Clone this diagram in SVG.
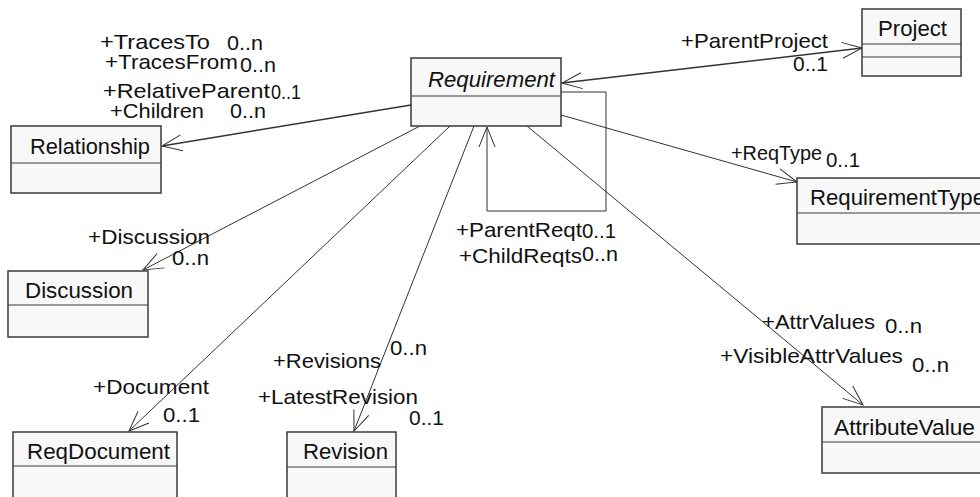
<svg xmlns="http://www.w3.org/2000/svg" width="980" height="497" viewBox="0 0 980 497">
  <style>
    .box { fill: #f8f8f8; stroke: #3a3a3a; stroke-width: 1.5; }
    .div { stroke: #3a3a3a; stroke-width: 1.2; fill: none; }
    .name { font-family: "Liberation Sans", Arial, sans-serif; font-size: 22px; fill: #111; }
    .lbl { font-family: "Liberation Sans", Arial, sans-serif; font-size: 21px; fill: #111; }
    .conn { stroke: #333; stroke-width: 1; fill: none; }
    .thick { stroke-width: 1.5; }
  </style>
  <defs>
    <marker id="open" markerUnits="userSpaceOnUse" markerWidth="24" markerHeight="20" viewBox="-22 -10 24 20" refX="0" refY="0" orient="auto-start-reverse">
      <path d="M-20,-8 L0,0 L-20,8" fill="none" stroke="#333" stroke-width="1"/>
    </marker>
  </defs>
  <rect width="980" height="497" fill="#ffffff"/>

  <!-- associations -->
  <g id="connectors">
    <line class="conn thick" x1="411" y1="105" x2="162" y2="146" marker-end="url(#open)"/>
    <line class="conn thick" x1="562" y1="83" x2="862" y2="48" marker-start="url(#open)" marker-end="url(#open)"/>
    <line class="conn" x1="561" y1="115" x2="797" y2="182" marker-end="url(#open)"/>
    <polyline class="conn" points="561,92 606,92 606,211 487,211 487,127" marker-end="url(#open)"/>
    <line class="conn" x1="420" y1="126" x2="143" y2="270" marker-end="url(#open)"/>
    <line class="conn" x1="450" y1="126" x2="129" y2="431" marker-end="url(#open)"/>
    <line class="conn" x1="474" y1="126" x2="354" y2="431" marker-end="url(#open)"/>
    <line class="conn" x1="527" y1="126" x2="863" y2="405" marker-end="url(#open)"/>
  </g>

  <!-- classes -->
  <g id="requirement">
    <rect class="box" x="411" y="58" width="150" height="68"/>
    <line class="div" x1="411" y1="96" x2="561" y2="96"/>
    <text class="name" x="428" y="87" font-style="italic" textLength="127" lengthAdjust="spacingAndGlyphs">Requirement</text>
  </g>
  <g id="relationship">
    <rect class="box" x="11" y="126" width="150" height="67"/>
    <line class="div" x1="11" y1="163" x2="161" y2="163"/>
    <text class="name" x="30" y="154" textLength="120" lengthAdjust="spacingAndGlyphs">Relationship</text>
  </g>
  <g id="project">
    <rect class="box" x="862" y="9" width="99" height="67"/>
    <line class="div" x1="862" y1="44" x2="961" y2="44"/>
    <line class="div" x1="862" y1="57" x2="961" y2="57"/>
    <text class="name" x="878" y="36" textLength="69" lengthAdjust="spacingAndGlyphs">Project</text>
  </g>
  <g id="requirementtype">
    <rect class="box" x="797" y="178" width="210" height="66"/>
    <line class="div" x1="797" y1="213" x2="1007" y2="213"/>
    <text class="name" x="810" y="205" textLength="175" lengthAdjust="spacingAndGlyphs">RequirementType</text>
  </g>
  <g id="discussion">
    <rect class="box" x="8" y="271" width="140" height="66"/>
    <line class="div" x1="8" y1="305" x2="148" y2="305"/>
    <text class="name" x="25" y="298" textLength="108" lengthAdjust="spacingAndGlyphs">Discussion</text>
  </g>
  <g id="reqdocument">
    <rect class="box" x="13" y="432" width="164" height="80"/>
    <line class="div" x1="13" y1="466" x2="177" y2="466"/>
    <text class="name" x="27" y="459" textLength="143" lengthAdjust="spacingAndGlyphs">ReqDocument</text>
  </g>
  <g id="revision">
    <rect class="box" x="287" y="432" width="109" height="80"/>
    <line class="div" x1="287" y1="467" x2="396" y2="467"/>
    <text class="name" x="303" y="459" textLength="85" lengthAdjust="spacingAndGlyphs">Revision</text>
  </g>
  <g id="attributevalue">
    <rect class="box" x="822" y="407" width="180" height="66"/>
    <line class="div" x1="822" y1="442" x2="1002" y2="442"/>
    <text class="name" x="834" y="435" textLength="141" lengthAdjust="spacingAndGlyphs">AttributeValue</text>
  </g>

  <!-- role names and multiplicities -->
  <g id="labels">
    <text class="lbl" x="100" y="49" textLength="110" lengthAdjust="spacingAndGlyphs">+TracesTo</text>
    <text class="lbl" x="227" y="50" textLength="36" lengthAdjust="spacingAndGlyphs">0..n</text>
    <text class="lbl" x="105" y="69" textLength="133" lengthAdjust="spacingAndGlyphs">+TracesFrom</text>
    <text class="lbl" x="240" y="72" textLength="36" lengthAdjust="spacingAndGlyphs">0..n</text>
    <text class="lbl" x="103" y="98" textLength="167" lengthAdjust="spacingAndGlyphs">+RelativeParent</text>
    <text class="lbl" x="271" y="99" textLength="30" lengthAdjust="spacingAndGlyphs">0..1</text>
    <text class="lbl" x="110" y="118" textLength="94" lengthAdjust="spacingAndGlyphs">+Children</text>
    <text class="lbl" x="230" y="118" textLength="36" lengthAdjust="spacingAndGlyphs">0..n</text>

    <text class="lbl" x="681" y="48" textLength="147" lengthAdjust="spacingAndGlyphs">+ParentProject</text>
    <text class="lbl" x="793" y="71" textLength="35" lengthAdjust="spacingAndGlyphs">0..1</text>

    <text class="lbl" x="731" y="160" textLength="91" lengthAdjust="spacingAndGlyphs">+ReqType</text>
    <text class="lbl" x="826" y="167" textLength="34" lengthAdjust="spacingAndGlyphs">0..1</text>

    <text class="lbl" x="456" y="237" textLength="126" lengthAdjust="spacingAndGlyphs">+ParentReqt</text>
    <text class="lbl" x="582" y="238" textLength="34" lengthAdjust="spacingAndGlyphs">0..1</text>
    <text class="lbl" x="459" y="263" textLength="123" lengthAdjust="spacingAndGlyphs">+ChildReqts</text>
    <text class="lbl" x="582" y="261" textLength="36" lengthAdjust="spacingAndGlyphs">0..n</text>

    <text class="lbl" x="88" y="244" textLength="122" lengthAdjust="spacingAndGlyphs">+Discussion</text>
    <text class="lbl" x="172" y="265" textLength="37" lengthAdjust="spacingAndGlyphs">0..n</text>

    <text class="lbl" x="93" y="394" textLength="116" lengthAdjust="spacingAndGlyphs">+Document</text>
    <text class="lbl" x="163" y="422" textLength="37" lengthAdjust="spacingAndGlyphs">0..1</text>

    <text class="lbl" x="273" y="368" textLength="108" lengthAdjust="spacingAndGlyphs">+Revisions</text>
    <text class="lbl" x="390" y="355" textLength="37" lengthAdjust="spacingAndGlyphs">0..n</text>
    <text class="lbl" x="258" y="404" textLength="160" lengthAdjust="spacingAndGlyphs">+LatestRevision</text>
    <text class="lbl" x="409" y="425" textLength="35" lengthAdjust="spacingAndGlyphs">0..1</text>

    <text class="lbl" x="762" y="329" textLength="113" lengthAdjust="spacingAndGlyphs">+AttrValues</text>
    <text class="lbl" x="885" y="333" textLength="37" lengthAdjust="spacingAndGlyphs">0..n</text>
    <text class="lbl" x="720" y="363" textLength="183" lengthAdjust="spacingAndGlyphs">+VisibleAttrValues</text>
    <text class="lbl" x="912" y="372" textLength="37" lengthAdjust="spacingAndGlyphs">0..n</text>
  </g>
</svg>
